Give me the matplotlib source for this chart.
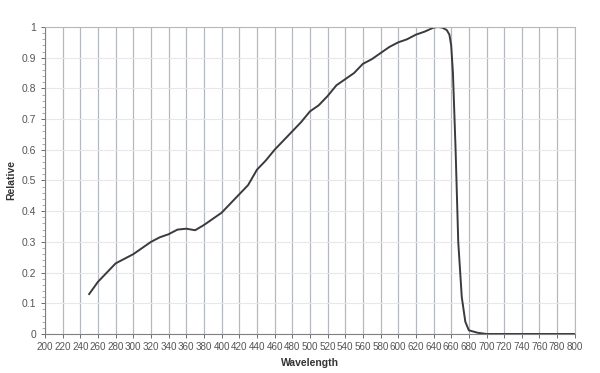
import matplotlib
matplotlib.use("Agg")
from matplotlib import pyplot as plt
from matplotlib.ticker import MultipleLocator
import numpy as np

plt.rcParams['font.family'] = ['Liberation Sans', 'DejaVu Sans']

wavelength = [250, 260, 270, 280, 290, 300, 310, 320, 330, 340, 350, 360, 370,
              380, 390, 400, 410, 420, 430, 440, 450, 460, 470, 480, 490, 500,
              510, 520, 530, 540, 550, 560, 570, 580, 590, 600, 610, 620, 630,
              640, 645, 650, 655, 658, 660, 662, 665, 668, 672, 676, 680, 690,
              700, 750, 800]
relative = [0.13, 0.17, 0.20, 0.23, 0.245, 0.26, 0.28, 0.30, 0.315, 0.325, 0.34,
            0.343, 0.338, 0.355, 0.375, 0.395, 0.425, 0.455, 0.485, 0.535, 0.565,
            0.60, 0.63, 0.66, 0.69, 0.725, 0.745, 0.775, 0.81, 0.83, 0.85, 0.88,
            0.895, 0.915, 0.935, 0.95, 0.96, 0.975, 0.985, 0.998, 1.0, 0.998,
            0.99, 0.975, 0.94, 0.85, 0.6, 0.3, 0.12, 0.04, 0.012, 0.004,
            0.0, 0.0, 0.0]

fig = plt.figure(figsize=(6, 3.73), dpi=100)
ax = fig.add_axes([0.075, 0.1046, 0.883, 0.823])

ax.plot(wavelength, relative, color="#3a3a3e", lw=1.4, solid_joinstyle="round")

ax.set_xlim(200, 800)
ax.set_ylim(0, 1)
ax.xaxis.set_major_locator(MultipleLocator(20))
ax.yaxis.set_minor_locator(MultipleLocator(0.02))
ax.set_yticks([0, 0.1, 0.2, 0.3, 0.4, 0.5, 0.6, 0.7, 0.8, 0.9, 1])
ax.set_yticklabels(["0", "0.1", "0.2", "0.3", "0.4", "0.5", "0.6", "0.7", "0.8", "0.9", "1"])

ax.grid(axis="x", color="#b4b9c0", lw=0.9)
ax.grid(axis="y", color="#e8e8e8", lw=0.8)
ax.set_axisbelow(True)

for s in ax.spines.values():
    s.set_color("#b8b8b8")
ax.spines["left"].set_color("#808080")
ax.spines["bottom"].set_color("#808080")

ax.tick_params(axis="both", colors="#555555", length=3, width=0.6)
ax.tick_params(axis="x", labelsize=7.1, pad=3)
ax.tick_params(axis="y", labelsize=7.5)
ax.tick_params(axis="y", which="minor", length=2, width=0.5, colors="#888888")

ax.set_xlabel("Wavelength", fontsize=7.5, fontweight="bold", color="#333333")
ax.set_ylabel("Relative", fontsize=7.5, fontweight="bold", color="#333333")

plt.savefig("out.png", dpi=100)
